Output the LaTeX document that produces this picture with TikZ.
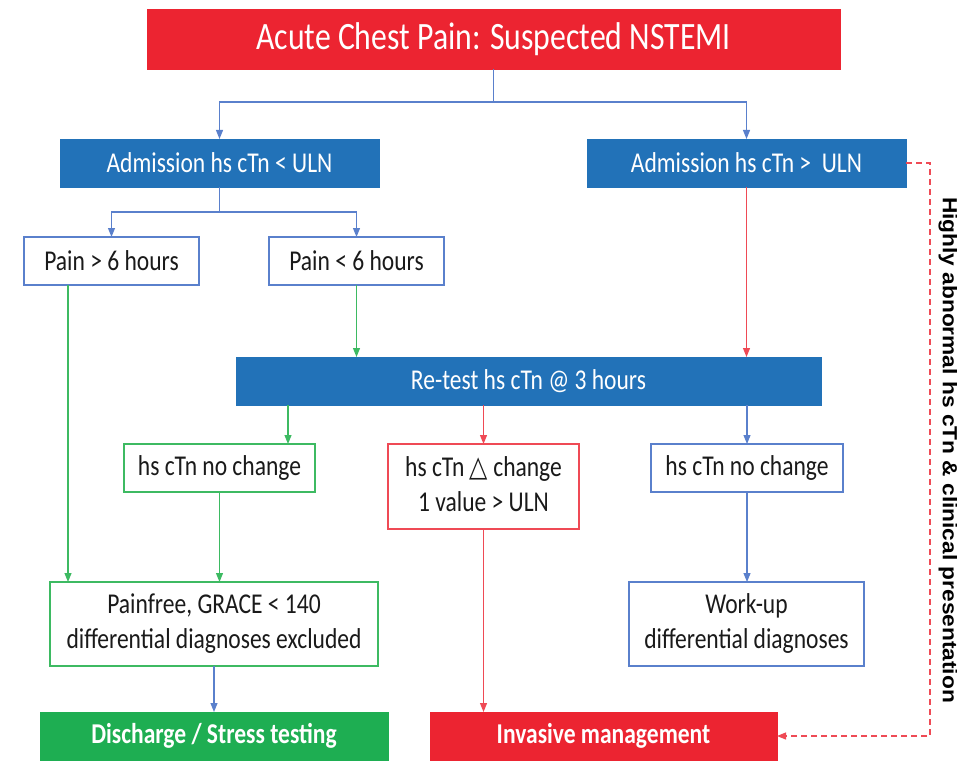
\documentclass[tikz,border=0pt]{standalone}
\usepackage{fontspec}
\setmainfont{Carlito}
\newfontfamily\sidefont{Liberation Sans}
\newfontfamily\symfont{DejaVu Sans}
\usetikzlibrary{arrows.meta,calc}
\definecolor{cRed}{HTML}{EC2431}
\definecolor{cBlue}{HTML}{2272B8}
\definecolor{cGreen}{HTML}{1EAE52}
\definecolor{lBlue}{HTML}{5A80CC}
\definecolor{lGreen}{HTML}{3DBA62}
\definecolor{lRed}{HTML}{EF4A55}
\definecolor{txt}{HTML}{1A1A1A}
\newcommand\sq[1]{\scalebox{0.82}[1]{#1}}
\newcommand\twol[2]{\sq{\begin{tabular}{@{}c@{}}#1\\#2\end{tabular}}}
\begin{document}
\begin{tikzpicture}[x=1pt,y=-1pt,
  every node/.style={inner sep=0pt, outer sep=0pt, font=\fontsize{28.7}{35}\selectfont},
  boxfill/.style={fill=#1, draw=#1, text=white},
  boxline/.style={fill=white, draw=#1, line width=1.5pt, text=txt},
  con/.style={draw=#1, line width=1.1pt, -{Triangle[length=9pt,width=7pt]}},
  sz/.style 2 args={minimum width=#1pt, minimum height=#2pt}
]
\useasboundingbox (0,0) rectangle (957,778);

\node[boxfill=cRed, sz={693}{60}, font=\fontsize{38.7}{40}\selectfont] (title) at (493.5,39) {\sq{Acute Chest Pain: Suspected NSTEMI}};
\node[boxfill=cBlue, sz={319}{48}] (adL) at (219.5,163) {\sq{Admission hs cTn < ULN}};
\node[boxfill=cBlue, sz={319}{48}] (adR) at (746.5,163) {\sq{Admission hs cTn >\ \ ULN}};
\node[boxline=lBlue, sz={175}{48}] (pg) at (111.5,261) {\sq{Pain > 6 hours}};
\node[boxline=lBlue, sz={175}{48}] (pl) at (356.5,261) {\sq{Pain < 6 hours}};
\node[boxfill=cBlue, sz={585}{48}] (retest) at (528.5,381) {\sq{Re-test hs cTn @ 3 hours}};
\node[boxline=lGreen, sz={191}{48}] (ncL) at (219.5,468) {\sq{hs cTn no change}};
\node[boxline=lRed, sz={191}{85}] (chg) at (483.5,486.5) {\twol{hs cTn {\symfont\fontsize{29}{35}\selectfont △} change}{1 value > ULN}};
\node[boxline=lBlue, sz={192}{48}] (ncR) at (747,468) {\sq{hs cTn no change}};
\node[boxline=lGreen, sz={328}{84}] (pf) at (214,624) {\twol{Painfree, GRACE < 140}{differential diagnoses excluded}};
\node[boxline=lBlue, sz={235}{84}] (wu) at (746.5,624) {\twol{Work-up}{differential diagnoses}};
\node[boxfill=cGreen, sz={348}{48}, font=\fontsize{28.7}{35}\selectfont\bfseries] (dis) at (214,736) {\sq{Discharge / Stress testing}};
\node[boxfill=cRed, sz={347}{48}, font=\fontsize{28.7}{35}\selectfont\bfseries] (inv) at (603.5,736) {\sq{Invasive management}};
\node[rotate=-90, font=\sidefont\bfseries\fontsize{22.7}{26}\selectfont, text=black] (side) at (948,450) {\scalebox{1}[0.9]{Highly abnormal hs cTn \& clinical presentation}};

\coordinate (b1) at (493.5,102);
\coordinate (b2) at (219.5,212);
\coordinate (dc) at (930,163);

\draw[con=lBlue] (title.south) -- (b1) -| (adL.north);
\draw[con=lBlue] (b1) -| (adR.north);
\draw[con=lBlue] (adL.south) -- (b2) -| (pg.north);
\draw[con=lBlue] (b2) -| (pl.north);
\draw[con=lRed] (adR.south) -- (adR.south |- retest.north);
\draw[con=lGreen] (pl.south) -- (pl.south |- retest.north);
\draw[con=lGreen] (pg.south -| 68,0) -- (pf.north -| 68,0);
\draw[con=lGreen] (retest.south -| 288,0) -- (ncL.north -| 288,0);
\draw[con=lRed] (retest.south -| chg.north) -- (chg.north);
\draw[con=lBlue] (retest.south -| ncR.north) -- (ncR.north);
\draw[con=lGreen] (ncL.south) -- (ncL.south |- pf.north);
\draw[con=lRed] (chg.south) -- (chg.south |- inv.north);
\draw[con=lBlue] (ncR.south) -- (ncR.south |- wu.north);
\draw[con=lBlue] (pf.south) -- (dis.north);
\draw[con=lRed, dash pattern=on 6pt off 4pt] (adR.east) -- (dc) |- (inv.east);
\end{tikzpicture}
\end{document}
